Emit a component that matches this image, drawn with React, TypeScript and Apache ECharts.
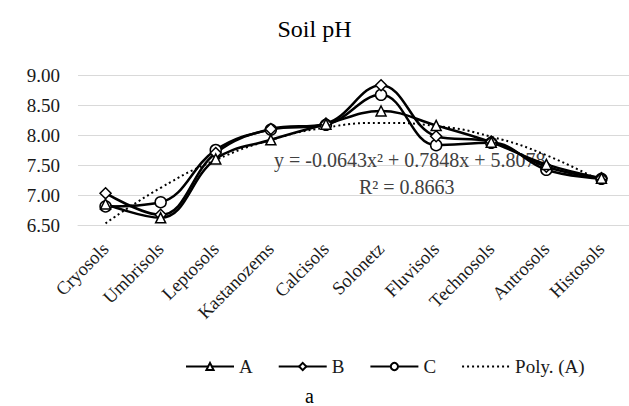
import React, { useEffect, useRef } from "react";
import * as echarts from "echarts";

const categories = ["Cryosols", "Umbrisols", "Leptosols", "Kastanozems", "Calcisols", "Solonetz", "Fluvisols", "Technosols", "Antrosols", "Histosols"];
const seriesA = [6.85, 6.62, 7.6, 7.92, 8.18, 8.4, 8.16, 7.88, 7.51, 7.28];
const seriesB = [7.03, 6.67, 7.7, 8.1, 8.19, 8.83, 7.98, 7.89, 7.47, 7.28];
const seriesC = [6.81, 6.88, 7.75, 8.09, 8.17, 8.67, 7.83, 7.87, 7.42, 7.27];
const polyA = [6.528, 7.12, 7.584, 7.918, 8.124, 8.202, 8.151, 7.971, 7.663, 7.226];
const yTicks = { min: 6.5, max: 9.0, interval: 0.5 };
const equationText = "y = -0.0643x\u00b2 + 0.7848x + 5.8078";
const r2Text = "R\u00b2 = 0.8663";

const FONT = "'Liberation Serif', 'DejaVu Serif', serif";

export default function App() {
  const ref = useRef<HTMLDivElement>(null);
  useEffect(() => {
    document.body.style.margin = "0";
    if (!ref.current) return;
    const chart = echarts.init(ref.current, undefined, { renderer: "svg" });
    const lineSeries = (name: string, data: number[], symbol: string, size: number) => ({
      name,
      type: "line",
      data,
      smooth: 0.4,
      symbol,
      symbolSize: size,
      lineStyle: { color: "#000", width: 2.5 },
      itemStyle: { color: "#fff", borderColor: "#000", borderWidth: 1.5 },
      z: 3,
    });
    chart.setOption({
      animation: false,
      backgroundColor: "#fff",
      title: {
        text: "Soil pH",
        left: "center",
        top: 12,
        textStyle: { fontFamily: FONT, fontSize: 24, fontWeight: "normal", color: "#000" },
      },
      grid: { left: 78, right: -5, top: 75, bottom: 181, containLabel: false },
      xAxis: {
        type: "category",
        data: categories,
        boundaryGap: true,
        axisLine: { lineStyle: { color: "#d9d9d9", width: 1 } },
        axisTick: { show: false },
        axisLabel: { rotate: 45, fontFamily: FONT, fontSize: 18.5, color: "#1a1a1a", margin: 21, interval: 0 },
      },
      yAxis: {
        type: "value",
        min: yTicks.min,
        max: yTicks.max,
        interval: yTicks.interval,
        axisLine: { show: false },
        axisTick: { show: false },
        splitLine: { lineStyle: { color: "#d9d9d9", width: 1 } },
        axisLabel: {
          fontFamily: FONT,
          fontSize: 19,
          color: "#1a1a1a",
          margin: 18,
          formatter: (v: number) => v.toFixed(2),
        },
      },
      legend: {
        top: 352,
        left: 180,
        itemWidth: 48,
        itemHeight: 9,
        itemGap: 25,
        textStyle: { fontFamily: FONT, fontSize: 19, color: "#1a1a1a" },
        data: [
          "A",
          "B",
          "C",
          { name: "Poly. (A)", itemStyle: { color: "rgba(0,0,0,0)", borderWidth: 0, opacity: 0 } },
        ],
      },
      series: [
        {
          name: "Poly. (A)",
          type: "line",
          data: polyA,
          smooth: 0.5,
          symbol: "none",
          lineStyle: { color: "#000", width: 2, type: [2, 3] },
          itemStyle: { color: "#000" },
          z: 2,
        },
        lineSeries("C", seriesC, "circle", 11),
        lineSeries("B", seriesB, "diamond", 11),
        lineSeries("A", seriesA, "triangle", 10),
      ],
      graphic: [
        {
          type: "text",
          left: 274,
          top: 150,
          z: 1,
          style: { text: equationText, fontFamily: FONT, fontSize: 20, fill: "#404040" },
        },
        {
          type: "text",
          left: 359,
          top: 177,
          z: 1,
          style: { text: r2Text, fontFamily: FONT, fontSize: 20, fill: "#404040" },
        },
        {
          type: "text",
          left: 305,
          top: 386,
          style: { text: "a", fontFamily: FONT, fontSize: 20, fill: "#000" },
        },
      ],
    });
    return () => chart.dispose();
  }, []);
  return <div ref={ref} style={{ width: 629, height: 406 }} />;
}
